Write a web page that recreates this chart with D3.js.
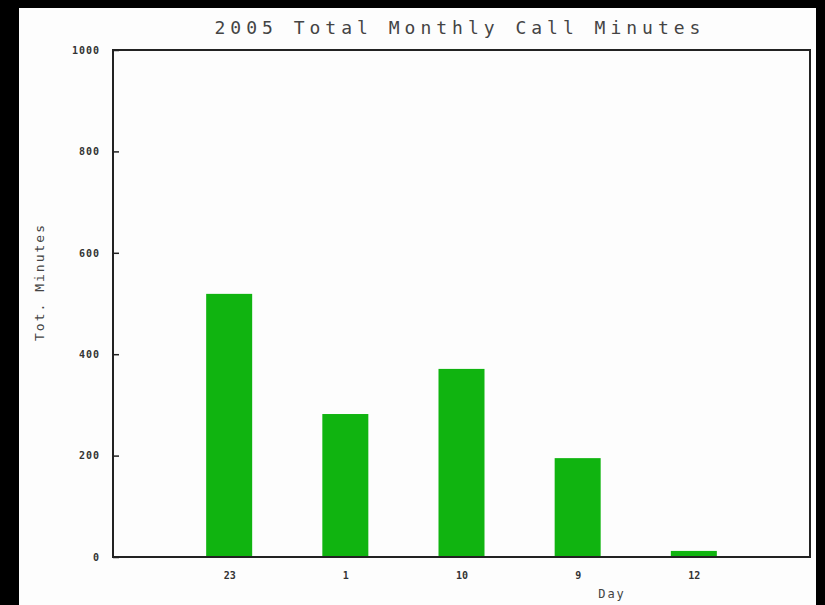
<!DOCTYPE html>
<html>
<head>
<meta charset="utf-8">
<script src="https://cdn.jsdelivr.net/npm/d3@7"></script>
<style>
  html, body { margin: 0; padding: 0; background: #000; }
  #root { width: 825px; height: 605px; }
</style>
</head>
<body>
<div id="root"></div>
<script>
const SVG_WIDTH = 825;
const SVG_HEIGHT = 605;

// data
const days = ['23', '1', '10', '9', '12'];
const minutes = [519, 282, 371, 195, 12];
const yTicks = [0, 200, 400, 600, 800, 1000];

const PLOT = { left: 113, right: 810, top: 50, bottom: 557 };

function addSvg() {
  const svg = document.createElementNS('http://www.w3.org/2000/svg', 'svg');
  svg.id = 'svg';
  svg.setAttribute('width', SVG_WIDTH);
  svg.setAttribute('height', SVG_HEIGHT);
  return svg;
}

function main() {
  const svg = d3.select('#svg');
  // black page with white panel
  svg.append('rect').attr('width', SVG_WIDTH).attr('height', SVG_HEIGHT).attr('fill', '#000');
  svg.append('rect').attr('x', 19).attr('y', 8).attr('width', 797).attr('height', 597).attr('fill', '#fdfdfd');

  const x = d3.scalePoint().domain(days).range([PLOT.left, PLOT.right]).padding(1);
  const y = d3.scaleLinear().domain([0, 1000]).range([PLOT.bottom, PLOT.top]);
  const barW = 46;

  svg.append('g')
    .selectAll('rect')
    .data(days)
    .join('rect')
    .attr('x', (d) => x(d) - barW / 2)
    .attr('y', (d, i) => y(minutes[i]))
    .attr('width', barW)
    .attr('height', (d, i) => y(0) - y(minutes[i]))
    .attr('fill', '#10b410');

  // frame
  svg.append('rect')
    .attr('x', PLOT.left).attr('y', PLOT.top)
    .attr('width', PLOT.right - PLOT.left).attr('height', PLOT.bottom - PLOT.top)
    .attr('fill', 'none').attr('stroke', '#222').attr('stroke-width', 2);

  // y axis, ticks point inward
  const yAxis = d3.axisLeft(y).tickValues(yTicks).tickSize(-6).tickPadding(13).tickFormat((d) => d);
  const gy = svg.append('g').attr('transform', `translate(${PLOT.left},0)`).call(yAxis);
  gy.select('.domain').remove();
  gy.selectAll('line').attr('stroke', '#222').attr('stroke-width', 1.5);
  gy.selectAll('text').attr('font-family', 'DejaVu Sans Mono').attr('font-size', 10)
    .attr('font-weight', 'bold').attr('letter-spacing', 1).attr('fill', '#333');

  // x axis labels
  const xAxis = d3.axisBottom(x).tickSize(0).tickPadding(15);
  const gx = svg.append('g').attr('transform', `translate(0,${PLOT.bottom})`).call(xAxis);
  gx.select('.domain').remove();
  gx.selectAll('text').attr('font-family', 'DejaVu Sans Mono').attr('font-size', 10)
    .attr('font-weight', 'bold').attr('fill', '#333');

  // title and labels
  svg.append('text').attr('x', 460).attr('y', 34).attr('text-anchor', 'middle')
    .attr('font-family', 'DejaVu Sans Mono').attr('font-size', 18).attr('letter-spacing', 5)
    .attr('fill', '#444')
    .text('2005 Total Monthly Call Minutes');
  svg.append('text').attr('transform', 'translate(44,282) rotate(-90)').attr('text-anchor', 'middle')
    .attr('font-family', 'DejaVu Sans Mono').attr('font-size', 13).attr('letter-spacing', 2)
    .attr('fill', '#444')
    .text('Tot. Minutes');
  svg.append('text').attr('x', 612).attr('y', 598).attr('text-anchor', 'middle')
    .attr('font-family', 'DejaVu Sans Mono').attr('font-size', 12).attr('letter-spacing', 2)
    .attr('fill', '#444')
    .text('Day');
}

const root = document.getElementById('root');
root.appendChild(addSvg());
main();
</script>
</body>
</html>
